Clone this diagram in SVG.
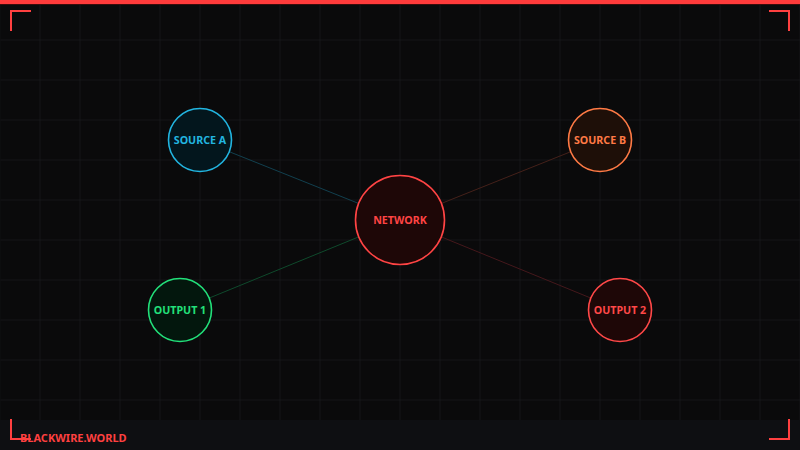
<svg xmlns="http://www.w3.org/2000/svg" width="800" height="450" viewBox="0 0 800 450">
<defs>
<pattern id="grid" width="40" height="40" patternUnits="userSpaceOnUse">
<path d="M40 0 V40 M0 40 H40" fill="none" stroke="#1b1d22" stroke-width="1"/>
</pattern>
</defs>
<style>
.lbl{font-family:"Noto Sans","Open Sans",sans-serif;font-weight:bold;font-size:10.7px;text-anchor:middle;dominant-baseline:central}
.br{fill:none;stroke:#ff4040;stroke-width:2}
.ln{stroke-width:1;fill:none}
</style>
<rect width="800" height="450" fill="#0a0a0b"/>
<rect width="800" height="450" fill="url(#grid)" transform="translate(0.5,0.5)"/>
<rect x="0" y="420" width="800" height="30" fill="#0e0f12"/>
<rect x="0" y="0" width="800" height="4" fill="#ff3b3b"/>
<rect x="0" y="4" width="800" height="1" fill="#3a0c0c"/>
<g id="connectors">
<line class="ln" x1="200" y1="140" x2="400" y2="220" stroke="#12404f"/>
<line class="ln" x1="600" y1="140" x2="400" y2="220" stroke="#45211a"/>
<line class="ln" x1="180" y1="310" x2="400" y2="220" stroke="#0f4a2c"/>
<line class="ln" x1="620" y1="310" x2="400" y2="220" stroke="#45181c"/>
</g>
<g id="source-a"><circle cx="200" cy="140" r="31.5" fill="#03161d" stroke="#22b5e0" stroke-width="1.6"/><text class="lbl" x="200" y="140" fill="#22b5e0">SOURCE A</text></g>
<g id="source-b"><circle cx="600" cy="140" r="31.5" fill="#1e0f08" stroke="#ff7a45" stroke-width="1.6"/><text class="lbl" x="600" y="140" fill="#ff7a45">SOURCE B</text></g>
<g id="network"><circle cx="400" cy="220" r="44.5" fill="#1e0707" stroke="#ff4444" stroke-width="1.6"/><text class="lbl" x="400" y="220" fill="#ff4444">NETWORK</text></g>
<g id="output-1"><circle cx="180" cy="310" r="31.5" fill="#03170d" stroke="#22e07a" stroke-width="1.6"/><text class="lbl" x="180" y="310" fill="#22e07a">OUTPUT 1</text></g>
<g id="output-2"><circle cx="620" cy="310" r="31.5" fill="#1e0707" stroke="#ff4848" stroke-width="1.6"/><text class="lbl" x="620" y="310" fill="#ff4848">OUTPUT 2</text></g>
<g id="brackets">
<path class="br" d="M11 31 V11 H31"/>
<path class="br" d="M769 11 H789 V31"/>
<path class="br" d="M11 419 V439 H31"/>
<path class="br" d="M769 439 H789 V419"/>
</g>
<text x="20" y="442" font-family="'Noto Sans','Open Sans',sans-serif" font-weight="bold" font-size="11" fill="#ff4040">BLACKWIRE.WORLD</text>
</svg>
